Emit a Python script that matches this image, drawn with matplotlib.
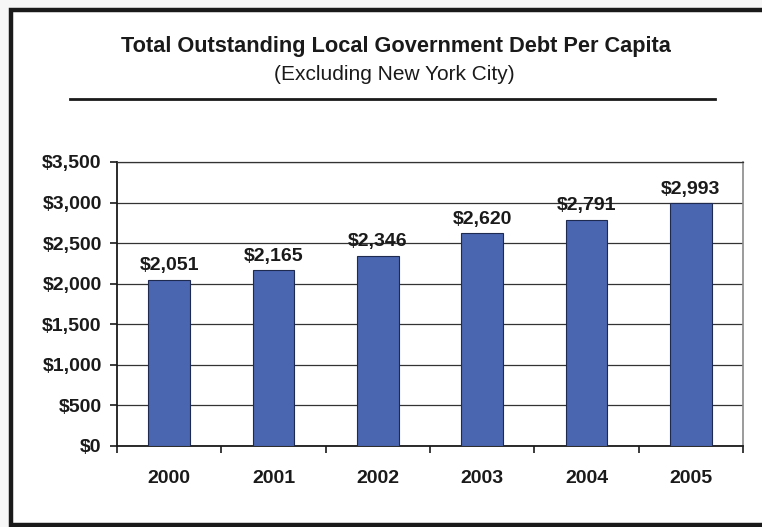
import matplotlib
matplotlib.use("Agg")
import matplotlib.pyplot as plt
from matplotlib.patches import Rectangle
from matplotlib.lines import Line2D
from matplotlib.ticker import FuncFormatter, MultipleLocator

plt.rcParams['font.family'] = ['Liberation Sans', 'DejaVu Sans']

years = ['2000', '2001', '2002', '2003', '2004', '2005']
debt_per_capita = [2051, 2165, 2346, 2620, 2791, 2993]
y_ticks = [0, 500, 1000, 1500, 2000, 2500, 3000, 3500]

fig = plt.figure(figsize=(7.62, 5.27), dpi=100)
fig.patch.set_facecolor('#f6f6f6')

# Framed white panel
fig.patches.append(Rectangle((11 / 762, 2.5 / 527), 1.2, 1 - 12.5 / 527,
                             transform=fig.transFigure, facecolor='white',
                             edgecolor='#1a1a1a', linewidth=3.2, zorder=-10))

fig.text(0.52, 0.911, 'Total Outstanding Local Government Debt Per Capita',
         ha='center', va='center', fontsize=15.7, fontweight='bold', color='#1a1a1a')
fig.text(0.518, 0.859, '(Excluding New York City)',
         ha='center', va='center', fontsize=15, color='#1a1a1a')
fig.lines.append(Line2D([70 / 762, 715 / 762], [1 - 99 / 527, 1 - 99 / 527],
                        transform=fig.transFigure, color='#1a1a1a', linewidth=2))

ax = fig.add_axes([117 / 762, 81 / 527, 626 / 762, 284 / 527])
ax.set_zorder(1)
x = list(range(len(years)))
ax.bar(x, debt_per_capita, width=0.4, color='#4a66b0', edgecolor='#1f2a50',
       linewidth=0.8, zorder=3)

for xi, v in zip(x, debt_per_capita):
    ax.annotate(f'${v:,}', (xi, v), xytext=(0, 4), textcoords='offset points',
                ha='center', va='bottom', fontsize=14, fontweight='bold', color='#1a1a1a')

ax.set_xlim(-0.5, len(years) - 0.5)
ax.set_ylim(0, 3500)
ax.set_yticks(y_ticks)
ax.yaxis.set_major_formatter(FuncFormatter(lambda v, p: f'${int(v):,}'))
ax.set_xticks(x)
ax.set_xticklabels(years)
ax.xaxis.set_minor_locator(MultipleLocator(1, offset=0.5))
ax.tick_params(axis='x', which='major', length=0, pad=17)
ax.tick_params(axis='x', which='minor', length=5, width=1.2, color='#1a1a1a', direction='out')
ax.tick_params(axis='y', length=5, width=1.2, color='#1a1a1a', direction='out', pad=6)
for lab in ax.get_xticklabels() + ax.get_yticklabels():
    lab.set_fontweight('bold')
    lab.set_fontsize(14)
    lab.set_color('#1a1a1a')

ax.grid(axis='y', color='#333333', linewidth=0.9, zorder=0)
ax.set_axisbelow(True)
for side in ['left', 'bottom']:
    ax.spines[side].set_color('#1a1a1a')
    ax.spines[side].set_linewidth(1.3)
ax.spines['top'].set_color('#333333')
ax.spines['top'].set_linewidth(0.9)
ax.spines['right'].set_color('#8a8a8a')
ax.spines['right'].set_linewidth(1.2)

fig.savefig('out.png', dpi=100, facecolor=fig.get_facecolor())
